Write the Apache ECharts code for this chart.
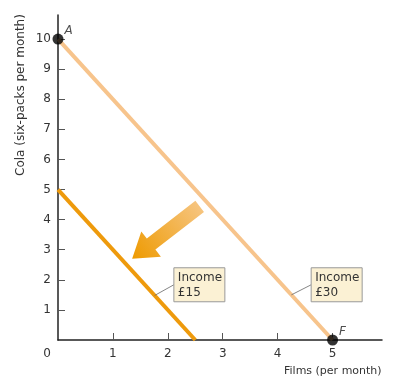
<!DOCTYPE html>
<html><head><meta charset="utf-8">
<script src="https://cdn.jsdelivr.net/npm/echarts@6/dist/echarts.min.js"></script>
<style>html,body{margin:0;padding:0;background:#fff}#c{width:401px;height:386px}</style>
</head><body><div id="c"></div>
<script>
const xTicks = [0, 1, 2, 3, 4, 5];
const yTicks = [1, 2, 3, 4, 5, 6, 7, 8, 9, 10];
const income30 = [[0, 10], [5, 0]];
const income15 = [[0, 5], [2.5, 0]];
const points = [{name: 'A', value: [0, 10]}, {name: 'F', value: [5, 0]}];
// callouts: anchor on line (x,y), box top-left (x,y), text lines
const callouts = [
  [1.76, 1.48, 2.11, 2.4, 'Income', '£15'],
  [4.25, 1.5, 4.61, 2.4, 'Income', '£30']
];
// shift arrow: tail (x,y) -> tip (x,y)
const arrow = [[2.58, 4.44, 1.35, 2.7]];

const font = 'DejaVu Sans';
const chart = echarts.init(document.getElementById('c'), null, {renderer: 'canvas'});
chart.setOption({
  animation: false,
  grid: {left: 58, right: 19, top: 15, bottom: 46},
  xAxis: {
    type: 'value', min: 0, max: 5.9, interval: 1,
    axisLine: {lineStyle: {color: '#222', width: 1.5}},
    axisTick: {inside: true, length: 7, customValues: [1, 2, 3, 4, 5], lineStyle: {color: '#555'}},
    axisLabel: {
      customValues: xTicks, margin: 8, color: '#333', fontFamily: font, fontSize: 12,
      formatter: v => v === 0 ? '{z|0}' : String(v),
      rich: {z: {padding: [0, 22, 0, 0], color: '#333', fontFamily: font, fontSize: 12}}
    },
    splitLine: {show: false}
  },
  yAxis: {
    type: 'value', min: 0, max: 10.8, interval: 1,
    axisLine: {lineStyle: {color: '#222', width: 1.5}},
    axisTick: {inside: true, length: 7, customValues: yTicks, lineStyle: {color: '#555'}},
    axisLabel: {customValues: yTicks, margin: 7, color: '#333', fontFamily: font, fontSize: 12},
    splitLine: {show: false}
  },
  graphic: [
    {type: 'text', left: 284, top: 366, style: {text: 'Films (per month)', fill: '#333', font: '11px "DejaVu Sans"'}},
    {type: 'text', x: 15, y: 176, rotation: Math.PI / 2, style: {text: 'Cola (six-packs per month)', fill: '#333', font: '12px "DejaVu Sans"', textAlign: 'left', textVerticalAlign: 'top'}}
  ],
  series: [
    {type: 'line', data: income30, symbol: 'none', lineStyle: {color: '#F7C48C', width: 4}, z: 2},
    {type: 'line', data: income15, symbol: 'none', lineStyle: {color: '#EE9A0C', width: 4}, z: 2},
    {
      type: 'custom', z: 3,
      data: arrow,
      renderItem: function (params, api) {
        const t = api.coord([api.value(0), api.value(1)]);
        const h = api.coord([api.value(2), api.value(3)]);
        const dx = h[0] - t[0], dy = h[1] - t[1];
        const L = Math.sqrt(dx * dx + dy * dy);
        const ux = dx / L, uy = dy / L, nx = -uy, ny = ux;
        const sw = 7, hw = 16, hl = 24;
        const b = [h[0] - ux * hl, h[1] - uy * hl];
        const pts = [
          [t[0] + nx * sw, t[1] + ny * sw],
          [b[0] + nx * sw, b[1] + ny * sw],
          [b[0] + nx * hw, b[1] + ny * hw],
          h,
          [b[0] - nx * hw, b[1] - ny * hw],
          [b[0] - nx * sw, b[1] - ny * sw],
          [t[0] - nx * sw, t[1] - ny * sw]
        ];
        return {
          type: 'polygon', shape: {points: pts},
          style: {fill: new echarts.graphic.LinearGradient(t[0], t[1], h[0], h[1], [
            {offset: 0, color: '#F6C47E'}, {offset: 1, color: '#EE9A00'}], true)}
        };
      }
    },
    {
      type: 'custom', z: 4,
      data: callouts,
      renderItem: function (params, api) {
        const a = api.coord([api.value(0), api.value(1)]);
        const b = api.coord([api.value(2), api.value(3)]);
        const w = 51, hgt = 34;
        return {
          type: 'group',
          children: [
            {type: 'line', shape: {x1: a[0], y1: a[1], x2: b[0], y2: b[1] + hgt / 2}, style: {stroke: '#666', lineWidth: 0.8}},
            {type: 'rect', shape: {x: b[0], y: b[1], width: w, height: hgt}, style: {fill: '#FBF1D4', stroke: '#999', lineWidth: 1}},
            {type: 'text', x: b[0] + 4, y: b[1] + 3, style: {text: api.value(4) + '\n' + api.value(5), fill: '#333', font: '12px "DejaVu Sans"', lineHeight: 15}}
          ]
        };
      }
    },
    {
      type: 'scatter', z: 5, data: points, symbolSize: 11,
      itemStyle: {color: '#000'},
      label: {show: true, formatter: p => p.name, position: [12, -9], color: '#222', fontStyle: 'italic', fontFamily: font, fontSize: 12}
    }
  ]
});
</script></body></html>
